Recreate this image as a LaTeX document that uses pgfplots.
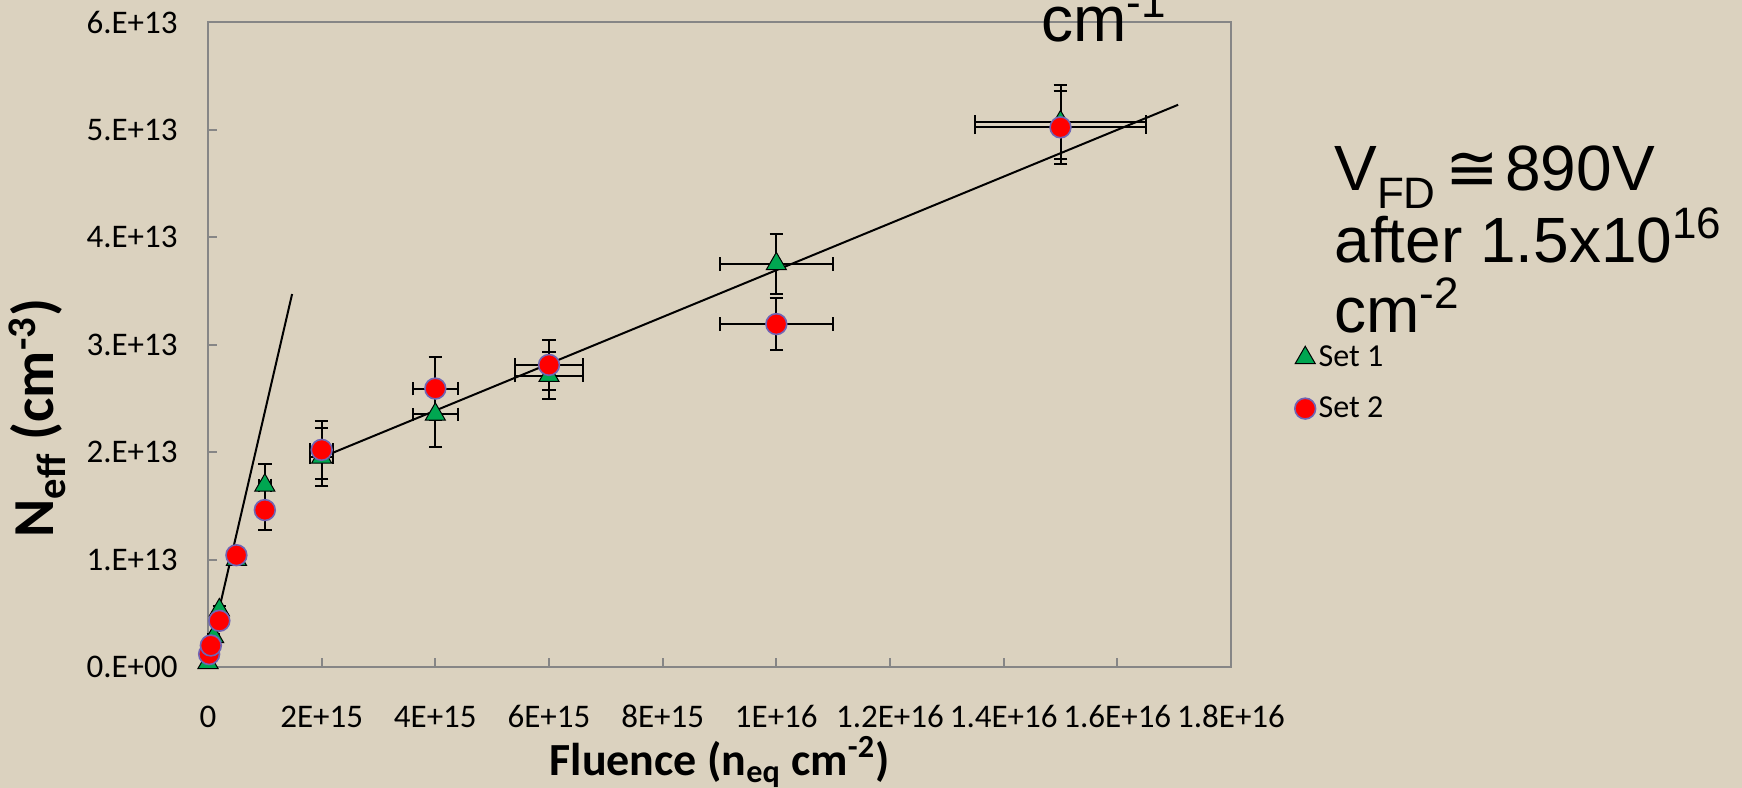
\documentclass[border=0pt]{standalone}
\usepackage{fontspec}
\setmainfont{Carlito}
\newfontfamily\arialf{Liberation Sans}
\newfontfamily\dejavu{DejaVu Sans}
\usepackage{pgfplots}
\pgfplotsset{compat=1.18}
\definecolor{bg}{RGB}{219,210,191}
\definecolor{axgray}{RGB}{134,134,134}
\definecolor{tri}{RGB}{0,166,81}
\definecolor{circedge}{RGB}{112,100,180}
\begin{document}
\begin{tikzpicture}
\fill[bg] (0,0) rectangle (871bp,394bp);
\begin{axis}[
  at={(104bp,60.5bp)}, anchor=south west,
  scale only axis, width=511.5bp, height=322.5bp,
  xmin=0, xmax=1.8e16, ymin=0, ymax=6e13,
  clip=false,
  axis line style={axgray, line width=1bp},
  tick style={axgray, line width=1bp},
  major tick length=4.5bp,
  tick align=inside,
  xtick pos=bottom, ytick pos=left,
  xtick={0,2e15,4e15,6e15,8e15,1e16,1.2e16,1.4e16,1.6e16,1.8e16},
  xticklabels={0,2E+15,4E+15,6E+15,8E+15,1E+16,1.2E+16,1.4E+16,1.6E+16,1.8E+16},
  ytick={0,1e13,2e13,3e13,4e13,5e13,6e13},
  yticklabels={0.E+00,1.E+13,2.E+13,3.E+13,4.E+13,5.E+13,6.E+13},
  scaled ticks=false,
  ticklabel style={font=\fontsize{16.5bp}{19bp}\selectfont, inner sep=0pt, text=black},
  xticklabel style={anchor=center, yshift=-24.8bp},
  yticklabel style={anchor=east, xshift=-15bp},
  xlabel={\textbf{Fluence (n\textsubscript{eq} cm\textsuperscript{-2})}},
  xlabel style={font=\fontsize{23bp}{27bp}\selectfont, at={(rel axis cs:0.5,0)}, anchor=base, yshift=-54bp, inner sep=0pt},
  ylabel={\textbf{N\textsubscript{eff} (cm\textsuperscript{-3})}},
  ylabel style={font=\fontsize{29bp}{33bp}\selectfont, at={(rel axis cs:-0.167,0.386)}, anchor=center, inner sep=0pt},
  legend style={at={(rel axis cs:1.062,0.503)}, anchor=north west, draw=none, fill=none,
    font=\fontsize{16bp}{19bp}\selectfont, row sep=10.5bp, inner sep=0pt, nodes={inner sep=1.5bp}},
  legend cell align=left,
  error bars/error bar style={black, line width=1bp},
  error bars/error mark options={black, line width=1bp, mark size=3.4bp, rotate=90},
]
\addplot[only marks, mark=triangle*, mark size=5.8bp,
  mark options={fill=tri, draw=black, line width=0.5bp},
  error bars/.cd, x dir=both, x explicit, y dir=both, y explicit]
coordinates {
 (0,0.04e13) +- (0,0.03e13)
 (1e14,0.28e13) +- (1e13,0.03e13)
 (2e14,0.53e13) +- (2e13,0.04e13)
 (5e14,1.0e13) +- (5e13,0.05e13)
 (1e15,1.69e13) +- (1e14,0.2e13)
 (2e15,1.95e13) +- (2e14,0.27e13)
 (4e15,2.35e13) +- (4e14,0.3e13)
 (6e15,2.71e13) +- (6e14,0.22e13)
 (1e16,3.75e13) +- (1e15,0.28e13)
 (1.5e16,5.07e13) +- (1.5e15,0.34e13)
};
\addlegendentry{Set 1}
\addplot[only marks, mark=*, mark size=5.2bp,
  mark options={fill=red, draw=circedge, line width=0.8bp},
  error bars/.cd, x dir=both, x explicit, y dir=both, y explicit]
coordinates {
 (2e13,0.12e13) +- (0,0.03e13)
 (5e13,0.2e13) +- (5e12,0.03e13)
 (2e14,0.43e13) +- (2e13,0.04e13)
 (5e14,1.04e13) +- (5e13,0.05e13)
 (1e15,1.46e13) +- (1e14,0.19e13)
 (2e15,2.02e13) +- (2e14,0.27e13)
 (4e15,2.59e13) +- (4e14,0.29e13)
 (6e15,2.81e13) +- (6e14,0.23e13)
 (1e16,3.19e13) +- (1e15,0.24e13)
 (1.5e16,5.02e13) +- (1.5e15,0.34e13)
};
\addlegendentry{Set 2}
\addplot[forget plot, black, line width=1bp, no marks] coordinates {(0,0.09e13) (1.48e15,3.47e13)};
\addplot[forget plot, black, line width=1bp, no marks] coordinates {(2e15,1.95e13) (1.707e16,5.23e13)};
\end{axis}
\begin{scope}[every node/.style={anchor=base west, inner sep=0pt, font=\arialf\fontsize{32bp}{36bp}\selectfont}]
\node at (667bp,298.5bp) {V\raisebox{-9bp}{\fontsize{22bp}{22bp}\selectfont FD}\kern5bp{\dejavu ≅}\kern3bp890V};
\node at (667bp,262.5bp) {after 1.5x10\raisebox{12bp}{\fontsize{22bp}{22bp}\selectfont 16}};
\node at (667bp,227.5bp) {cm\raisebox{12bp}{\fontsize{22bp}{22bp}\selectfont -2}};
\node at (520.5bp,373bp) {cm\raisebox{12bp}{\fontsize{22bp}{22bp}\selectfont -1}};
\end{scope}
\pgfresetboundingbox
\useasboundingbox (0,0) rectangle (871bp,394bp);
\end{tikzpicture}
\end{document}
